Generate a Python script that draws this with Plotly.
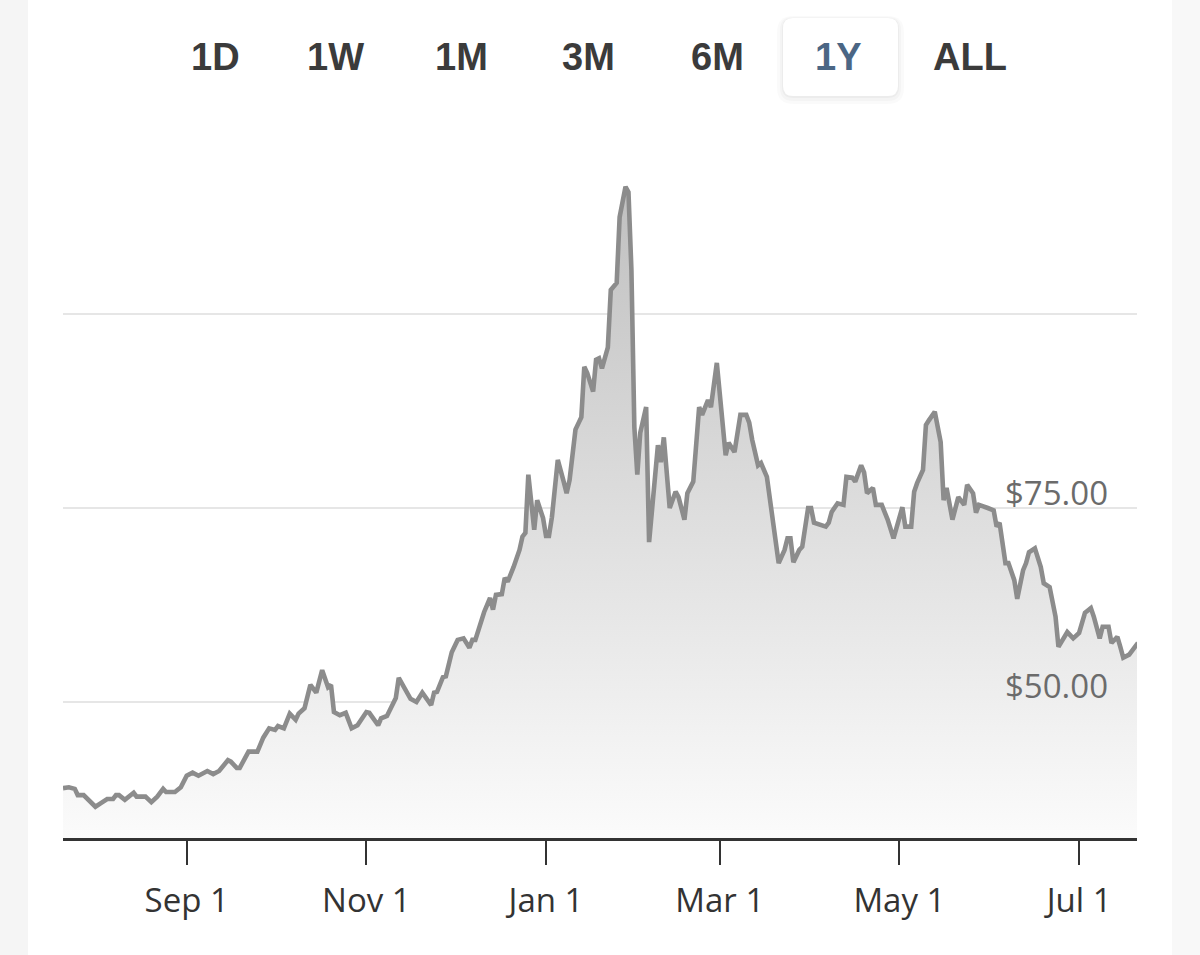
import pandas as pd
import plotly.graph_objects as go

# ---------------- data ----------------
start_date = "2021-07-21"
end_date = "2022-07-20T16:00"

days_since_start = [
    0, 2, 4, 5, 7, 8, 11, 13, 15, 17, 18, 19, 21, 24, 25, 28, 30, 32, 34, 35,
    38, 40, 42, 44, 46, 49, 51, 53, 56, 57, 59, 60, 63, 66, 68, 70, 72, 73, 75, 77,
    79, 80, 82, 84, 86, 88, 90, 91, 92, 94, 96, 98, 100, 103, 104, 107, 108, 110, 113, 114,
    116, 118, 120, 122, 125, 126, 127, 129, 130, 132, 134, 136, 138, 139, 140, 142, 143, 145, 146, 147,
    149, 150, 151, 153, 155, 156, 157, 158, 160, 161, 163, 164, 165, 166, 168, 170, 171, 172, 174, 176,
    177, 178, 180, 181, 182, 183, 185, 186, 188, 189, 191, 192, 193, 194, 195, 196, 198, 199, 202, 203,
    204, 206, 208, 209, 211, 212, 214, 216, 217, 219, 220, 222, 223, 225, 226, 228, 230, 232, 233, 234,
    236, 237, 239, 241, 243, 245, 246, 247, 248, 250, 251, 253, 254, 255, 257, 259, 260, 261, 263, 265,
    266, 268, 269, 271, 272, 273, 275, 276, 278, 280, 282, 283, 285, 286, 288, 289, 290, 292, 293, 294,
    296, 298, 299, 300, 302, 304, 306, 307, 309, 310, 311, 314, 316, 317, 318, 320, 321, 323, 324, 326,
    327, 328, 330, 332, 333, 335, 337, 338, 340, 341, 343, 345, 347, 349, 350, 352, 353, 355, 356, 358,
    359, 360, 362, 364, 365,
]

price = [
    38.9, 39.0, 38.8, 38.0, 38.0, 37.6, 36.5, 37.0, 37.5, 37.5, 38.0, 38.0, 37.4, 38.3, 37.8, 37.8, 37.1, 37.8, 38.8, 38.4,
    38.4, 39.0, 40.5, 40.9, 40.5, 41.1, 40.7, 41.1, 42.5, 42.3, 41.5, 41.5, 43.6, 43.6, 45.4, 46.6, 46.4, 46.9, 46.6, 48.5,
    47.7, 48.5, 49.2, 52.2, 51.2, 54.1, 51.9, 52.2, 48.7, 48.3, 48.6, 46.6, 47.0, 48.7, 48.6, 47.0, 47.9, 48.2, 50.5, 53.1,
    51.8, 50.4, 50.0, 51.2, 49.6, 51.2, 51.3, 53.2, 53.3, 56.4, 58.0, 58.2, 57.0, 58.0, 58.0, 60.3, 61.6, 63.4, 61.9, 63.8,
    63.9, 66.0, 65.5, 67.4, 69.6, 71.3, 71.8, 79.3, 72.2, 76.0, 73.7, 71.4, 71.4, 73.8, 81.2, 78.4, 76.9, 78.6, 85.1, 86.7,
    93.2, 92.4, 90.0, 94.1, 94.3, 93.0, 95.7, 103.1, 104.0, 112.5, 116.4, 115.7, 105.7, 85.4, 79.3, 84.7, 88.0, 70.6, 83.1, 80.9,
    84.1, 75.0, 77.1, 76.4, 73.5, 76.9, 78.4, 88.0, 87.0, 88.9, 88.0, 93.7, 89.8, 81.8, 83.4, 82.2, 87.0, 87.0, 86.0, 83.8,
    80.5, 80.8, 79.0, 73.5, 67.9, 69.6, 71.1, 71.1, 68.0, 69.6, 70.0, 75.0, 75.0, 73.1, 72.8, 72.6, 73.1, 74.5, 75.6, 75.4,
    79.0, 78.9, 78.4, 80.5, 79.6, 76.9, 77.6, 75.4, 75.4, 73.5, 71.1, 72.6, 75.1, 72.6, 72.6, 77.1, 78.2, 79.9, 85.7, 86.3,
    87.4, 83.5, 76.0, 77.6, 73.5, 76.4, 75.4, 78.0, 76.9, 74.4, 75.4, 75.0, 74.7, 72.6, 73.1, 67.9, 67.9, 65.7, 63.3, 67.0,
    67.9, 69.3, 69.8, 67.4, 65.3, 64.8, 61.0, 57.1, 58.2, 59.0, 58.2, 58.9, 61.5, 62.1, 61.0, 58.2, 59.7, 59.7, 57.6, 58.4,
    57.1, 55.7, 56.1, 57.0, 57.6,
]

x_tick_dates = ["2021-09-01", "2021-11-01", "2022-01-01", "2022-03-01", "2022-05-01", "2022-07-01"]
x_tick_labels = ["Sep 1", "Nov 1", "Jan 1", "Mar 1", "May 1", "Jul 1"]

grid_values = [50, 75, 100]
price_label_values = [50, 75]
price_labels = ["$50.00", "$75.00"]

range_buttons = ["1D", "1W", "1M", "3M", "6M", "1Y", "ALL"]
active_button = "1Y"

y_min, y_max = 32.47, 118.56

# ---------------- layout geometry (pixels) ----------------
W, H = 1200, 955
PL, PR, PT, PB = 63, 1137, 170, 838  # plot area


def px_x(x):
    return (x - PL) / (PR - PL)


def px_y(y):
    return (PB - y) / (PB - PT)


dates = pd.Timestamp(start_date) + pd.to_timedelta(days_since_start, unit="D")

fig = go.Figure()
fig.add_trace(
    go.Scatter(
        x=dates,
        y=price,
        mode="lines",
        line=dict(color="#8c8c8c", width=4.6),
        fill="tozeroy",
        fillgradient=dict(
            type="vertical",
            colorscale=[[0, "rgb(251,251,251)"], [1, "rgb(192,192,192)"]],
            start=y_min,
            stop=max(price),
        ),
        hoverinfo="skip",
    )
)

shapes = []


def rounded_rect(x0, y0, x1, y1, r, fill, line_color="rgba(0,0,0,0)"):
    # pixel coords, y0 top, y1 bottom
    X0, X1 = px_x(x0), px_x(x1)
    YT, YB = px_y(y0), px_y(y1)
    rx = r / (PR - PL)
    ry = r / (PB - PT)
    path = (
        f"M {X0+rx},{YT} L {X1-rx},{YT} Q {X1},{YT} {X1},{YT-ry} "
        f"L {X1},{YB+ry} Q {X1},{YB} {X1-rx},{YB} "
        f"L {X0+rx},{YB} Q {X0},{YB} {X0},{YB+ry} "
        f"L {X0},{YT-ry} Q {X0},{YT} {X0+rx},{YT} Z"
    )
    return dict(type="path", xref="paper", yref="paper", path=path,
                fillcolor=fill, line=dict(color=line_color, width=0), layer="above")


# side strips of page background
shapes.append(dict(type="rect", xref="paper", yref="paper", x0=px_x(0), x1=px_x(28),
                   y0=px_y(H), y1=px_y(0), fillcolor="#f5f5f5", line=dict(width=0), layer="below"))
shapes.append(dict(type="rect", xref="paper", yref="paper", x0=px_x(1172), x1=px_x(W),
                   y0=px_y(H), y1=px_y(0), fillcolor="#f8f8f8", line=dict(width=0), layer="below"))

# active button box with soft shadow
bx0, by0, bx1, by1 = 783, 18, 898, 96
shapes.append(rounded_rect(bx0 - 6, by0 - 2, bx1 + 6, by1 + 8, 16, "rgba(0,0,0,0.018)"))
shapes.append(rounded_rect(bx0 - 3, by0 - 1, bx1 + 3, by1 + 5, 13, "rgba(0,0,0,0.025)"))
shapes.append(rounded_rect(bx0 - 1, by0, bx1 + 1, by1 + 2, 11, "rgba(0,0,0,0.03)"))
shapes.append(rounded_rect(bx0, by0, bx1, by1, 10, "#ffffff"))

annotations = []
button_centers_px = [215, 335, 461, 588, 717, 838, 970]
for label, cx in zip(range_buttons, button_centers_px):
    annotations.append(dict(
        text=f"<b>{label}</b>", x=px_x(cx), y=px_y(57), xref="paper", yref="paper",
        xanchor="center", yanchor="middle", showarrow=False,
        font=dict(family="Liberation Sans, Arial, sans-serif", size=38,
                  color="#4b6684" if label == active_button else "#3b3b3b"),
    ))

for val, lab in zip(price_label_values, price_labels):
    annotations.append(dict(
        text=lab, x=px_x(1110), y=val, xref="paper", yref="y",
        xanchor="right", yanchor="middle", yshift=16, showarrow=False,
        font=dict(family="Open Sans, sans-serif", size=33, color="#6b6b6b"),
    ))

fig.update_layout(
    width=W, height=H,
    margin=dict(l=PL, r=W - PR, t=PT, b=H - PB, pad=0),
    paper_bgcolor="#ffffff",
    plot_bgcolor="rgba(0,0,0,0)",
    showlegend=False,
    shapes=shapes,
    annotations=annotations,
    xaxis=dict(
        type="date",
        range=[start_date, end_date],
        tickvals=x_tick_dates,
        ticktext=x_tick_labels,
        ticks="outside",
        ticklen=24,
        tickwidth=2,
        tickcolor="#333333",
        ticklabelstandoff=7,
        showline=True,
        linecolor="#333333",
        linewidth=3,
        showgrid=False,
        zeroline=False,
        tickfont=dict(family="Open Sans, sans-serif", size=33, color="#333333"),
        fixedrange=True,
    ),
    yaxis=dict(
        range=[y_min, y_max],
        tickvals=grid_values,
        showticklabels=False,
        showgrid=True,
        gridcolor="#e6e6e6",
        gridwidth=2,
        zeroline=False,
        showline=False,
        ticks="",
        fixedrange=True,
    ),
)

fig.write_html("out.html", config={"displayModeBar": False})
